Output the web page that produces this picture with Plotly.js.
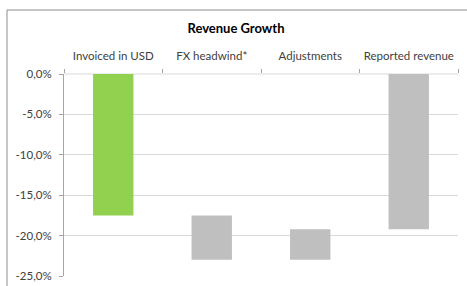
<!DOCTYPE html>
<html>
<head>
<meta charset="utf-8">
<script src="https://cdn.plot.ly/plotly-3.0.1.min.js"></script>
<style>html,body{margin:0;padding:0;background:#fff;}#chart{width:467px;height:286px;}</style>
</head>
<body>
<div id="chart"></div>
<script>
var categories = ["Invoiced in USD", "FX headwind*", "Adjustments", "Reported revenue"];
var barLow = [-17.5, -23.0, -23.0, -19.2];
var barHigh = [0, -17.5, -19.2, 0];
var barColors = ["#92d050", "#bfbfbf", "#bfbfbf", "#bfbfbf"];
var tickValues = [0, -5, -10, -15, -20, -25];
var tickLabels = ["0,0%", "-5,0%", "-10,0%", "-15,0%", "-20,0%", "-25,0%"];

var heights = barHigh.map(function (h, i) { return h - barLow[i]; });

var trace = {
  type: "bar",
  x: categories,
  y: heights,
  base: barLow,
  marker: { color: barColors, line: { width: 0 } },
  hoverinfo: "skip"
};

var font = "Lato, 'Open Sans', sans-serif";

var layout = {
  width: 467,
  height: 286,
  margin: { l: 64, r: 9, t: 74, b: 10, pad: 0 },
  paper_bgcolor: "#ffffff",
  plot_bgcolor: "#ffffff",
  showlegend: false,
  bargap: 0.59,
  font: { family: font, size: 11.5, color: "#404040" },
  title: {
    text: "<b>Revenue Growth</b>",
    font: { family: font, size: 13, color: "#000000" },
    x: 0.4365, xref: "paper", xanchor: "center",
    y: 0.899, yref: "container", yanchor: "middle"
  },
  xaxis: {
    type: "category",
    side: "top",
    anchor: "y",
    showgrid: false,
    showline: false,
    ticks: "outside",
    tickson: "boundaries",
    ticklen: 4,
    tickcolor: "#a6a6a6",
    tickangle: 0,
    tickfont: { family: font, size: 11.5, color: "#404040" },
    ticklabelstandoff: 11,
    zeroline: false,
    fixedrange: true
  },
  yaxis: {
    range: [-25, 0],
    tickvals: tickValues,
    ticktext: tickLabels,
    showgrid: true,
    gridcolor: "#d9d9d9",
    gridwidth: 1,
    zeroline: false,
    showline: true,
    linecolor: "#a6a6a6",
    linewidth: 1,
    ticks: "outside",
    ticklen: 4,
    tickcolor: "#a6a6a6",
    tickfont: { family: font, size: 11.5, color: "#404040" },
    ticklabelstandoff: 5,
    fixedrange: true
  },
  shapes: [
    {
      type: "rect", xref: "paper", yref: "paper",
      x0: -0.1447, x1: 1.05, y0: -0.1, y1: 1.3168,
      line: { color: "#8c8c8c", width: 1 }, fillcolor: "rgba(0,0,0,0)",
      layer: "above"
    },
    {
      type: "line", xref: "paper", yref: "paper",
      x0: 0, x1: 1, y0: 1, y1: 1,
      line: { color: "#d9d9d9", width: 1 }, layer: "below"
    }
  ]
};

Plotly.newPlot("chart", [trace], layout, { displayModeBar: false, staticPlot: true });
</script>
</body>
</html>
